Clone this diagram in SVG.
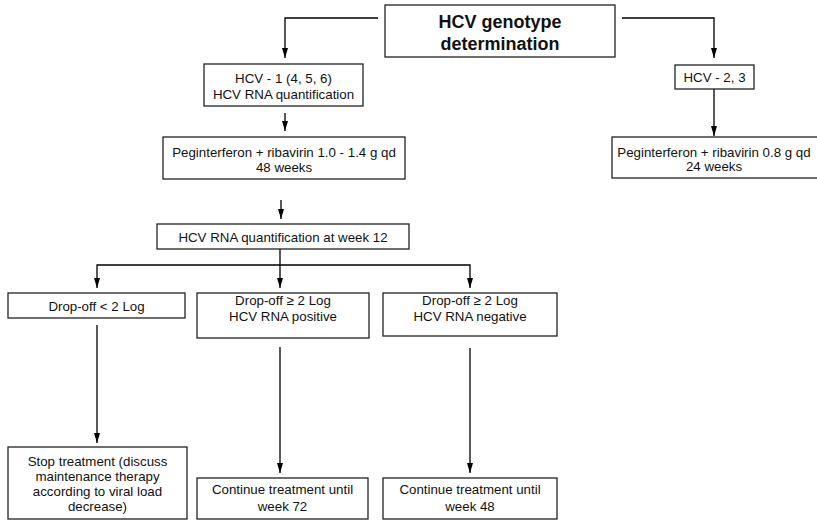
<svg xmlns="http://www.w3.org/2000/svg" width="817" height="523" viewBox="0 0 817 523">
<defs>
<marker id="ah" viewBox="0 0 10 6" refX="10" refY="3" markerWidth="10" markerHeight="6" markerUnits="userSpaceOnUse" orient="auto">
<path d="M0,0 L10,3 L0,6 Z" fill="#000"/>
</marker>
</defs>
<style>
rect{fill:#fff;stroke:#222;stroke-width:1.3}
text{font-family:"Liberation Sans",Arial,sans-serif;font-size:13.3px;fill:#111;text-anchor:middle}
.t{font-size:18px;font-weight:bold}
.c path{fill:none;stroke:#000;stroke-width:1.3;marker-end:url(#ah)}
</style>
<rect x="0" y="0" width="817" height="523" style="fill:#fff;stroke:none"/>
<g class="c" id="connectors">
<path d="M378,18 H285 V58"/>
<path d="M622,18 H714 V58"/>
<path d="M714,89 V136"/>
<path d="M285,113 V131"/>
<path d="M281,200 V219"/>
<path d="M280,249 V265 H97 V288"/>
<path d="M280,265 V288"/>
<path d="M280,265 H470 V288"/>
<path d="M97,325 V443"/>
<path d="M280,347 V473"/>
<path d="M470,348 V473"/>
</g>
<g id="n_top"><rect x="385" y="5" width="230" height="52"/><text class="t" x="500" y="28">HCV genotype</text><text class="t" x="500" y="50">determination</text></g>
<g id="n_hcv1"><rect x="204" y="64" width="159" height="42"/><text x="283.5" y="83">HCV - 1 (4, 5, 6)</text><text x="283.5" y="99">HCV RNA quantification</text></g>
<g id="n_hcv23"><rect x="675" y="65" width="79" height="24"/><text x="714.5" y="82">HCV - 2, 3</text></g>
<g id="n_peg1"><rect x="163" y="137" width="242" height="42"/><text x="284" y="157">Peginterferon + ribavirin 1.0 - 1.4 g qd</text><text x="284" y="172">48 weeks</text></g>
<g id="n_peg2"><rect x="612" y="137" width="210" height="41"/><text x="714" y="157">Peginterferon + ribavirin 0.8 g qd</text><text x="714" y="171">24 weeks</text></g>
<g id="n_w12"><rect x="157" y="224" width="252" height="25"/><text x="283" y="241.5">HCV RNA quantification at week 12</text></g>
<g id="n_d1"><rect x="8" y="293" width="177" height="25"/><text x="96.5" y="310.5">Drop-off &lt; 2 Log</text></g>
<g id="n_d2"><rect x="197" y="293" width="172" height="45"/><text x="283" y="305">Drop-off ≥ 2 Log</text><text x="283" y="321">HCV RNA positive</text></g>
<g id="n_d3"><rect x="383" y="293" width="174" height="43"/><text x="470" y="305">Drop-off ≥ 2 Log</text><text x="470" y="321">HCV RNA negative</text></g>
<g id="n_stop"><rect x="8" y="447" width="179" height="72"/><text x="97.5" y="466">Stop treatment (discuss</text><text x="97.5" y="481">maintenance therapy</text><text x="97.5" y="496">according to viral load</text><text x="97.5" y="511">decrease)</text></g>
<g id="n_c72"><rect x="197" y="478" width="171" height="41"/><text x="282.5" y="494">Continue treatment until</text><text x="282.5" y="511">week 72</text></g>
<g id="n_c48"><rect x="383" y="478" width="174" height="41"/><text x="470" y="494">Continue treatment until</text><text x="470" y="511">week 48</text></g>
</svg>
